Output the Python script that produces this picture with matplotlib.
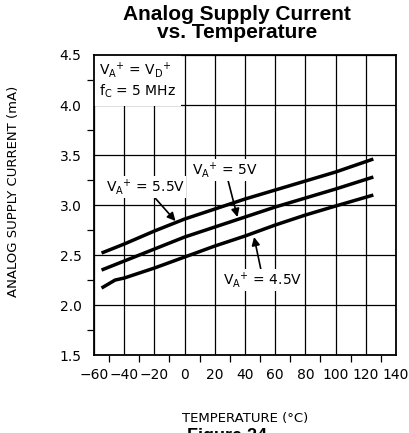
import matplotlib
matplotlib.use('Agg')
from matplotlib import pyplot as plt
from matplotlib.ticker import MultipleLocator

# valores
temp = [-55, -40, -20, 0, 20, 40, 60, 80, 100, 125]
i_55 = [2.52, 2.61, 2.74, 2.86, 2.96, 3.06, 3.15, 3.24, 3.33, 3.46]
i_50 = [2.35, 2.44, 2.56, 2.68, 2.78, 2.88, 2.98, 3.07, 3.16, 3.28]
temp_45 = [-55, -46, -40, -20, 0, 20, 40, 60, 80, 100, 125]
i_45 = [2.17, 2.25, 2.27, 2.37, 2.48, 2.59, 2.69, 2.80, 2.90, 2.99, 3.10]

xticks = [-60, -40, -20, 0, 20, 40, 60, 80, 100, 120, 140]
yticks = [1.5, 2.0, 2.5, 3.0, 3.5, 4.0, 4.5]

plt.rcParams['font.family'] = ['DejaVu Sans']

fig = plt.figure(figsize=(4.09, 4.33), dpi=100)
ax = fig.add_axes([0.2298, 0.180, 0.7384, 0.693])

for y in (i_55, i_50):
    ax.plot(temp, y, color='black', lw=2.5, solid_capstyle='butt', zorder=3)
ax.plot(temp_45, i_45, color='black', lw=2.5, solid_capstyle='butt', zorder=3)

ax.set_xlim(-60, 140)
ax.set_ylim(1.5, 4.5)
ax.set_xticks(xticks)
ax.set_yticks(yticks)
ax.set_yticklabels(['%.1f' % v for v in yticks])
ax.xaxis.set_minor_locator(MultipleLocator(10))
ax.yaxis.set_minor_locator(MultipleLocator(0.25))
ax.tick_params(which='major', length=0, labelsize=10, pad=9)
ax.tick_params(which='minor', length=5, width=0.9, direction='out')
ax.grid(True, which='major', color='black', lw=0.9)
for s in ax.spines.values():
    s.set_linewidth(1.3)

ax.set_xlabel('TEMPERATURE (°C)', fontsize=9.5, labelpad=22)
ax.set_ylabel('ANALOG SUPPLY CURRENT (mA)', fontsize=9.5)
ax.yaxis.set_label_coords(-0.245, 0.547)

fig.text(0.58, 0.988, 'Analog Supply Current\nvs. Temperature', ha='center', va='top',
         fontsize=15, fontweight='bold', family='Liberation Sans', linespacing=0.92)
fig.text(0.555, 0.012, 'Figure 24', ha='center', va='top', fontsize=13,
         fontweight='bold', family='Liberation Sans')

va = 'V$_\\mathregular{A}$$^\\mathregular{+}$'
vd = 'V$_\\mathregular{D}$$^\\mathregular{+}$'

# caixa com condições
ax.text(-57, 4.45, va + ' = ' + vd + '\nf$_\\mathregular{C}$ = 5 MHz', ha='left', va='top',
        fontsize=10, linespacing=1.25, zorder=2.2,
        bbox=dict(fc='white', ec='none', pad=4))

arrow = dict(arrowstyle='-|>', color='black', lw=1.2, mutation_scale=12, shrinkA=0, shrinkB=0)
ax.annotate(va + ' = 5.5V', xy=(-6, 2.84), xytext=(-26, 3.18),
            ha='center', va='center', fontsize=10, arrowprops=arrow, zorder=5,
            bbox=dict(fc='white', ec='none', pad=1))
ax.annotate(va + ' = 5V', xy=(35, 2.88), xytext=(27, 3.35),
            ha='center', va='center', fontsize=10, arrowprops=arrow, zorder=5,
            bbox=dict(fc='white', ec='none', pad=1))
ax.annotate(va + ' = 4.5V', xy=(46, 2.68), xytext=(52, 2.25),
            ha='center', va='center', fontsize=10, arrowprops=arrow, zorder=5,
            bbox=dict(fc='white', ec='none', pad=1))

fig.savefig('out.png', dpi=100)
